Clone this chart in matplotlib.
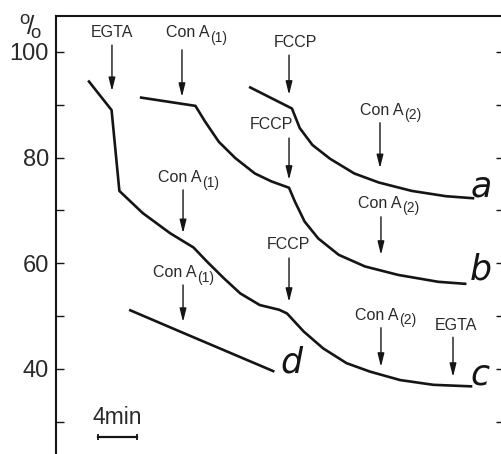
import matplotlib
matplotlib.use("Agg")
import matplotlib.pyplot as plt

plt.rcParams['font.family'] = ['Liberation Sans', 'DejaVu Sans']
plt.rcParams['mathtext.fontset'] = 'custom'
plt.rcParams['mathtext.rm'] = 'Liberation Sans'
plt.rcParams['mathtext.it'] = 'Liberation Sans:italic'

# ---- data (time in min, signal in %) ----
a_t = [19.8, 24.2, 25.0, 26.3, 28.1, 30.6, 33.1, 36.5, 40.0, 42.9]
a_v = [93.4, 89.3, 85.6, 82.4, 79.8, 77.0, 75.3, 73.7, 72.7, 72.3]

b_t = [8.6, 14.3, 15.3, 16.7, 18.4, 20.4, 22.1, 23.9, 24.5, 25.5, 26.9, 29.0, 31.7, 35.1, 39.2, 42.1]
b_v = [91.4, 89.8, 86.8, 83.0, 79.9, 77.0, 75.5, 74.3, 71.7, 67.9, 64.7, 61.6, 59.4, 57.8, 56.5, 56.1]

c_t = [3.3, 5.7, 6.5, 8.9, 11.7, 14.1, 15.5, 17.2, 18.9, 20.9, 22.9, 23.7, 25.4, 27.4, 29.8,
       32.2, 35.3, 38.7, 42.7]
c_v = [94.6, 89.0, 73.7, 69.5, 65.7, 63.0, 60.3, 57.2, 54.3, 52.1, 51.2, 50.5, 47.1, 43.9, 41.1,
       39.5, 37.9, 37.0, 36.7]

d_t = [7.5, 12.7, 22.4]
d_v = [51.2, 47.1, 39.5]

curve_names = ['a', 'b', 'c', 'd']
curve_label_pos = [(43.6, 74.6), (43.6, 58.9), (43.5, 38.9), (24.1, 41.3)]

# additions: name, subscript, arrow x (min), arrow start/end (%), text x, text y, text align
add_names = ['EGTA', 'Con A', 'FCCP', 'Con A', 'FCCP', 'Con A',
             'Con A', 'FCCP', 'Con A', 'Con A', 'EGTA']
add_subs = ['', '(1)', '', '(2)', '', '(1)', '(2)', '', '(1)', '(2)', '']
add_x = [5.74, 12.92, 23.9, 33.23, 23.9, 13.03, 33.33, 23.9, 13.03, 33.33, 40.72]
add_y0 = [101.3, 100.4, 99.4, 86.6, 83.7, 73.9, 68.8, 61.0, 55.9, 47.8, 46.0]
add_y1 = [92.6, 91.5, 91.9, 78.0, 75.8, 65.7, 61.6, 52.7, 48.9, 40.4, 38.5]
add_tx = [5.74, 11.28, 24.56, 31.18, 22.05, 10.46, 30.97, 23.85, 9.95, 30.67, 40.97]
add_ty = [103.6, 103.6, 101.7, 89.0, 86.2, 76.3, 71.4, 63.5, 58.2, 50.2, 48.3]
add_ha = ['center', 'left', 'center', 'left', 'center', 'left', 'left', 'center', 'left', 'left', 'center']

y_ticks = [30, 40, 50, 60, 70, 80, 90, 100]
y_ticklabels = ['', '40', '', '60', '', '80', '', '100']

scale_t0, scale_len = 4.31, 4.0
scale_v = 27.2

ink = '#151515'
txt = '#2a2a2a'

fig = plt.figure(figsize=(5.01, 4.54), dpi=100)
ax = fig.add_axes([56 / 501, -6 / 454, 448 / 501, 444 / 454])
ax.set_xlim(0, 45.95)
ax.set_ylim(22.77, 106.81)

for t, v in zip([a_t, b_t, c_t, d_t], [a_v, b_v, c_v, d_v]):
    ax.plot(t, v, color=ink, lw=1.9, solid_joinstyle='round', solid_capstyle='butt')

for name, (x, y) in zip(curve_names, curve_label_pos):
    ax.text(x, y, name, fontsize=25, style='italic', color=ink, ha='center', va='center',
            family='DejaVu Sans')

for nm, sb, x, y0, y1, tx, ty, ha in zip(add_names, add_subs, add_x, add_y0, add_y1,
                                         add_tx, add_ty, add_ha):
    ax.annotate('', xy=(x, y1), xytext=(x, y0),
                arrowprops=dict(arrowstyle='-|>,head_length=0.8,head_width=0.2',
                                lw=1.0, color=ink, shrinkA=0, shrinkB=0, mutation_scale=10))
    t = ax.text(tx, ty, nm, fontsize=11.5, color=txt, ha=ha, va='center')
    if sb:
        ax.annotate(sb, xy=(1, 0), xycoords=t, xytext=(0.2, -3.5), textcoords='offset points',
                    fontsize=10, color=txt, ha='left', va='bottom')

# scale bar
ax.plot([scale_t0, scale_t0 + scale_len], [scale_v, scale_v], color=ink, lw=1.6)
ax.plot([scale_t0, scale_t0 + scale_len], [scale_v, scale_v], ls='none', marker='|',
        ms=5, mew=1.3, color=ink)
ax.text(scale_t0 + scale_len / 2, 30.9, '4min', fontsize=16.5, color=txt, ha='center', va='center')

# unit label
ax.text(-2.6, 104.6, r'$^{\mathrm{o}}\!/\!_{\mathrm{o}}$', fontsize=19, color=txt,
        ha='center', va='center', clip_on=False)

ax.set_yticks(y_ticks)
ax.set_yticklabels(y_ticklabels)
ax.set_xticks([])
ax.tick_params(axis='y', which='both', direction='in', length=6, width=1.0, colors=ink,
               labelsize=17, labelcolor=txt, pad=5, right=True, left=True)
for s in ['left', 'top', 'right']:
    ax.spines[s].set_linewidth(1.5)
    ax.spines[s].set_color(ink)
ax.spines['bottom'].set_visible(False)

fig.savefig('out.png', dpi=100)
